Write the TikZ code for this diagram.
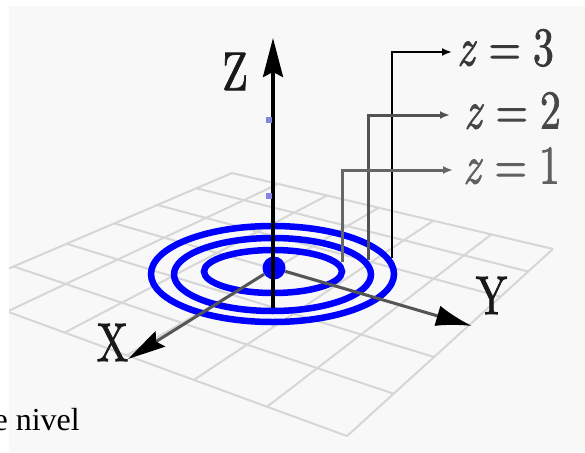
\documentclass[tikz,border=0pt]{standalone}
\usepackage{fontspec}
\newfontfamily\timesfont{Liberation Serif}
\newfontfamily\lblfont{lmroman10-regular.otf}[ItalicFont=lmroman10-italic.otf, FakeBold=1.6]
\usepackage{graphicx}
\usetikzlibrary{arrows.meta}
\definecolor{bgcol}{HTML}{F8F8F8}
\definecolor{gridcol}{HTML}{D6D6D6}
\definecolor{ringblue}{HTML}{0000FF}
\definecolor{axgray}{HTML}{555555}
\definecolor{sqblue}{HTML}{8585E0}
\newcommand{\zeq}[1]{\textit{z}\hspace{0.28em}=\hspace{0.28em}#1}
\tikzset{
  gridline/.style={gridcol, line width=2pt},
  ring/.style={ringblue, line width=6.5pt},
  xyaxis/.style={axgray, line width=3pt},
  zaxis/.style={black, line width=3.2pt},
  callout/.style={line width=3pt, -{Latex[length=10pt,width=8pt]}},
  axlbl/.style={inner sep=0pt, text=black!90, font=\lblfont\fontsize{42}{50}\selectfont},
  zlbl/.style={inner sep=0pt, anchor=west, text height=35pt, text depth=8pt,
               font=\lblfont\fontsize{42}{50}\selectfont},
  dotnode/.style={circle, fill=ringblue, inner sep=0pt, minimum size=23pt},
  sqnode/.style={rectangle, fill=sqblue, inner sep=0pt, minimum size=6pt},
}
\begin{document}
\begin{tikzpicture}[x=1pt,y=-1pt]
\useasboundingbox (0,0) rectangle (585,452);
\fill[bgcol] (9,6) rectangle (585,452);
% perspective grid (6 x 6 cells)
\begin{scope}
\clip (9,6) rectangle (585,452);
\foreach \i in {0,...,6}{
  \pgfmathsetmacro\p{\i/6}
  \pgfmathsetmacro\xa{(-265.75*\p+232)/(-0.2663*\p+1)}
  \pgfmathsetmacro\ya{(41.24*\p+173)/(-0.2663*\p+1)}
  \pgfmathsetmacro\xb{(-265.75*\p+233.3+232)/(-0.2663*\p-0.1586+1)}
  \pgfmathsetmacro\yb{(41.24*\p+36.51+173)/(-0.2663*\p-0.1586+1)}
  \draw[gridline] (\xa,\ya) -- (\xb,\yb);
  \pgfmathsetmacro\xc{(233.3*\p+232)/(-0.1586*\p+1)}
  \pgfmathsetmacro\yc{(36.51*\p+173)/(-0.1586*\p+1)}
  \pgfmathsetmacro\xd{(-265.75+233.3*\p+232)/(-0.2663-0.1586*\p+1)}
  \pgfmathsetmacro\yd{(41.24+36.51*\p+173)/(-0.2663-0.1586*\p+1)}
  \draw[gridline] (\xc,\yc) -- (\xd,\yd);
}
\end{scope}
% level curves
\draw[ring] (272.5,274) ellipse [x radius=121.5, y radius=48];
\draw[ring] (272.5,274.5) ellipse [x radius=98.5, y radius=36.5];
\draw[ring] (273,271.5) ellipse [x radius=69, y radius=21.5];
% origin and axes
\node[dotnode] (O) at (274,268) {};
\coordinate (xt) at (128,359);
\coordinate (yt) at (472,326);
\coordinate (zb) at (273,308);
\coordinate (zt) at (273,38);
\draw[xyaxis, -{Stealth[length=38pt,width=18pt,inset=5pt,black]}] (O) -- (xt);
\draw[xyaxis, -{Latex[length=36pt,width=21pt,black]}] (O) -- (yt);
\draw[zaxis, -{Stealth[length=39pt,width=20pt,inset=5pt]}] (zb) -- (zt);
\node[sqnode] (s1) at (269,120) {};
\node[sqnode] (s2) at (269,195.5) {};
% axis labels
\node[axlbl] (zl) at (235,71.5) {\scalebox{1}[1.3]{Z}};
\node[axlbl] (xl) at (112.5,342.5) {\scalebox{1}[1.3]{X}};
\node[axlbl] (yl) at (491.5,295.5) {\scalebox{1}[1.3]{Y}};
% level labels
\node[zlbl, text=black!78] (l3) at (457,52) {\scalebox{1}[1.3]{\zeq{3}}};
\node[zlbl, text=black!72] (l2) at (464,115) {\scalebox{1}[1.3]{\zeq{2}}};
\node[zlbl, text=black!62] (l1) at (463,170) {\scalebox{1}[1.3]{\zeq{1}}};
\coordinate (c3) at (392,258);
\coordinate (c2) at (368,260);
\coordinate (c1) at (342,262);
\draw[callout, black, line width=2.6pt] (c3) |- ([xshift=-5pt]l3.west);
\draw[callout, black!68] (c2) |- ([xshift=-14pt]l2.west);
\draw[callout, black!60] (c1) |- ([xshift=-10pt]l1.west);
% caption fragment
\node[anchor=base east, inner sep=0pt, font=\timesfont\fontsize{32}{38}\selectfont] (cap) at (80,430) {e nivel};
\end{tikzpicture}
\end{document}
